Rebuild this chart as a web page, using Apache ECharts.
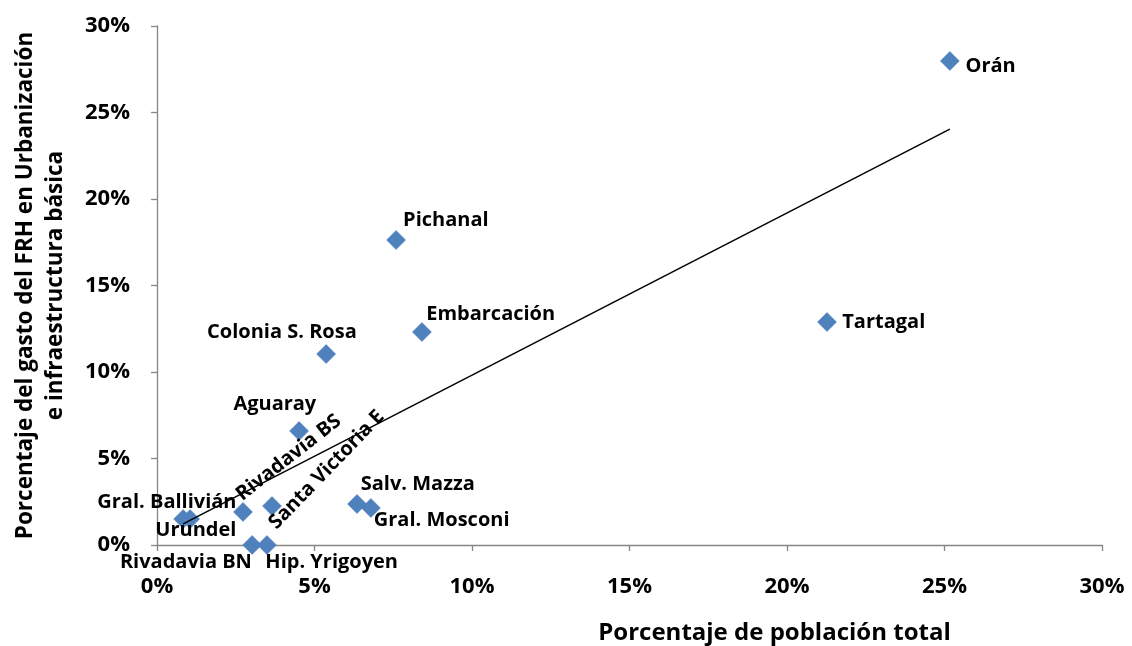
<!DOCTYPE html>
<html>
<head>
<meta charset="utf-8">
<script src="https://cdn.jsdelivr.net/npm/echarts@6/dist/echarts.min.js"></script>
<style>
  html, body { margin: 0; padding: 0; background: #ffffff; }
  #chart { width: 1132px; height: 646px; }
</style>
</head>
<body>
<div id="chart"></div>
<script>
// Municipios de Salta: participación en la población total vs. participación en el gasto del FRH
const municipios = ['Orán', 'Pichanal', 'Embarcación', 'Tartagal', 'Colonia S. Rosa', 'Aguaray',
  'Salv. Mazza', 'Gral. Mosconi', 'Gral. Ballivián', 'Urundel', 'Rivadavia BS',
  'Santa Victoria E', 'Rivadavia BN', 'Hip. Yrigoyen'];
// % de población total
const poblacion = [25.17, 7.59, 8.41, 21.27, 5.37, 4.51, 6.35, 6.79, 0.83, 1.05, 2.73, 3.65, 3.02, 3.49];
// % del gasto del FRH en urbanización e infraestructura básica
const gasto = [27.98, 17.63, 12.31, 12.89, 11.04, 6.59, 2.37, 2.14, 1.50, 1.50, 1.91, 2.25, 0.0, 0.0];
// Tick labels (both axes)
const xTicks = [0, 5, 10, 15, 20, 25, 30];
const yTicks = [0, 5, 10, 15, 20, 25, 30];

const FONT = '"Open Sans", "Noto Sans", sans-serif';
const BLUE = '#4F81BD';
const AXIS_GREY = '#868686';
const SYMBOL_SIZE = 19;

// Where each label's text centre sits relative to its marker centre (px)
const labelPlacement = {
  'Orán':            { dx: 41,  dy: 6 },
  'Pichanal':        { dx: 50,  dy: -19 },
  'Embarcación':     { dx: 69,  dy: -17 },
  'Tartagal':        { dx: 57,  dy: 1 },
  'Colonia S. Rosa': { dx: -44, dy: -21 },
  'Aguaray':         { dx: -24, dy: -26 },
  'Salv. Mazza':     { dx: 61,  dy: -19 },
  'Gral. Mosconi':   { dx: 71,  dy: 13 },
  'Gral. Ballivián': { dx: -16, dy: -17 },
  'Urundel':         { dx: 6,   dy: 11 },
  'Rivadavia BS':    { dx: 46,  dy: -54, rotate: 38 },
  'Santa Victoria E':{ dx: 55,  dy: -36, rotate: 46 },
  'Rivadavia BN':    { dx: -66, dy: 18 },
  'Hip. Yrigoyen':   { dx: 65,  dy: 18 }
};

// Least-squares linear trend over the points
const n = poblacion.length;
const mx = poblacion.reduce((s, v) => s + v, 0) / n;
const my = gasto.reduce((s, v) => s + v, 0) / n;
let sxy = 0, sxx = 0;
for (let i = 0; i < n; i++) {
  sxy += (poblacion[i] - mx) * (gasto[i] - my);
  sxx += (poblacion[i] - mx) * (poblacion[i] - mx);
}
const slope = sxy / sxx;
const intercept = my - slope * mx;
const xMin = Math.min(...poblacion);
const xMax = Math.max(...poblacion);
const trend = [[xMin, intercept + slope * xMin], [xMax, intercept + slope * xMax]];

const half = SYMBOL_SIZE / 2;
const points = municipios.map((name, i) => {
  const p = labelPlacement[name] || { dx: 0, dy: 0 };
  return {
    name: name,
    value: [poblacion[i], gasto[i]],
    label: {
      show: true,
      position: [half + p.dx, half + p.dy],
      align: 'center',
      verticalAlign: 'middle',
      rotate: p.rotate || 0
    }
  };
});

const axisCommon = {
  type: 'value',
  min: 0,
  max: 30,
  interval: 5,
  axisLine: { show: true, lineStyle: { color: AXIS_GREY, width: 1.3 } },
  axisTick: { show: true, inside: false, length: 6, lineStyle: { color: AXIS_GREY, width: 1.3 } },
  splitLine: { show: false },
  axisLabel: {
    fontFamily: FONT, fontWeight: 'bold', fontSize: 22, color: '#000'
  }
};

const chart = echarts.init(document.getElementById('chart'), null, { renderer: 'canvas' });
chart.setOption({
  animation: false,
  backgroundColor: '#ffffff',
  grid: { left: 157, right: 30, top: 26, bottom: 101, containLabel: false, outerBoundsMode: 'none' },
  xAxis: Object.assign({}, axisCommon, {
    axisLabel: Object.assign({}, axisCommon.axisLabel, {
      margin: 31,
      formatter: v => (xTicks.indexOf(v) >= 0 ? v + '%' : '')
    }),
    name: 'Porcentaje de población total',
    nameLocation: 'middle',
    nameGap: 76,
    nameTextStyle: {
      fontFamily: FONT, fontWeight: 'bold', fontSize: 24, color: '#000',
      padding: [0, 0, 0, 290]
    }
  }),
  yAxis: Object.assign({}, axisCommon, {
    axisLabel: Object.assign({}, axisCommon.axisLabel, {
      margin: 27,
      formatter: v => (yTicks.indexOf(v) >= 0 ? v + '%' : '')
    }),
    name: 'Porcentaje del gasto del FRH en Urbanización\ne infraestructura básica',
    nameLocation: 'middle',
    nameGap: 86,
    nameTextStyle: {
      fontFamily: FONT, fontWeight: 'bold', fontSize: 22.5, color: '#000',
      lineHeight: 30
    }
  }),
  series: [
    {
      type: 'scatter',
      symbol: 'diamond',
      symbolSize: SYMBOL_SIZE,
      itemStyle: { color: BLUE, opacity: 1, borderColor: '#4A7EBB', borderWidth: 0.5 },
      label: {
        fontFamily: FONT, fontWeight: 'bold', fontSize: 20, color: '#000',
        formatter: '{b}'
      },
      labelLayout: { hideOverlap: false },
      data: points,
      z: 2
    },
    {
      type: 'line',
      data: trend,
      symbol: 'none',
      silent: true,
      lineStyle: { color: '#000', width: 1.5 },
      z: 3
    }
  ]
});
</script>
</body>
</html>
